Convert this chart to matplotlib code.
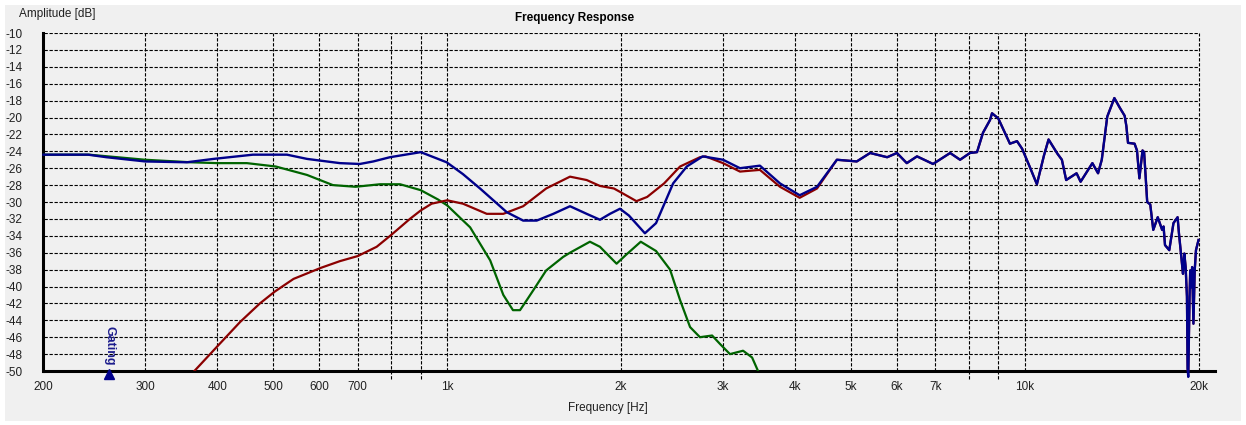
import matplotlib
matplotlib.use("Agg")
import matplotlib.pyplot as plt
from matplotlib.patches import Rectangle
from matplotlib.ticker import NullLocator

plt.rcParams["font.family"] = ["Liberation Sans", "DejaVu Sans"]

# full system response (dB)
full_freq = [200, 239, 257, 300, 354, 394, 461, 528, 572, 652, 706, 745, 796,
             900, 998, 1065, 1140, 1268, 1354, 1429, 1527, 1632, 1744, 1839,
             1914, 1992, 2064, 2200, 2300, 2462, 2600, 2770, 3004, 3214, 3480,
             3770, 4078, 4370, 4730, 5120,
             5400, 5780, 6010, 6250, 6510, 6940, 7430, 7730, 8040, 8270, 8470,
             8710, 8780, 9000, 9430, 9700, 9900, 10200, 10500, 10800, 11000,
             11400, 11600, 11800, 12300, 12500, 13100, 13400, 13600, 13900,
             14300, 14600, 14900, 15000, 15100, 15500, 15650, 15800, 16000,
             16100, 16200, 16300, 16500, 16700, 17000, 17300, 17400, 17500,
             17800, 18100, 18400, 18500, 18700, 18800, 18900, 19000, 19100,
             19150, 19200, 19300, 19350, 19400, 19500, 19600, 19700, 19800,
             20000]
full_db = [-24.4, -24.4, -24.7, -25.2, -25.3, -24.9, -24.4, -24.4, -24.9, -25.4,
           -25.5, -25.2, -24.7, -24.1, -25.3, -26.7, -28.4, -31.2, -32.2, -32.2,
           -31.4, -30.5, -31.4, -32.1, -31.4, -30.8, -31.6, -33.7, -32.5, -27.8,
           -25.8, -24.6, -25.0, -26.0, -25.7, -27.8, -29.2, -28.2, -25.0, -25.2,
           -24.2, -24.7, -24.2, -25.4, -24.6,
           -25.5, -24.2, -25.0, -24.2, -24.1, -21.8, -20.3, -19.5, -20.1, -23.1,
           -22.8, -23.7, -25.8, -27.9, -24.5, -22.6, -24.3, -25.0, -27.4, -26.6,
           -27.6, -25.4, -26.6, -25.0, -19.9, -17.7, -18.8, -19.8, -21.0, -23.0,
           -23.1, -23.9, -27.2, -23.9, -24.1, -27.0, -30.0, -30.3, -33.3, -31.8,
           -33.3, -32.9, -35.1, -35.7, -32.5, -31.8, -33.7, -36.9, -38.5, -36.1,
           -37.7, -41.2, -49.7, -50.7, -41.2, -38.1, -40.1, -37.7, -44.4, -38.1,
           -35.7, -34.5]

# tweeter branch, same as the full response above ~4.5 kHz
tw_freq = [365, 401, 438, 474, 503, 542, 604, 652, 700, 755, 800, 862, 900,
           940, 1000, 1065, 1171, 1251, 1354, 1484, 1632, 1744, 1839, 1944,
           1992, 2127, 2220, 2375, 2531, 2740, 2800, 3004, 3214, 3480, 3770,
           4078, 4370]
tw_db = [-50.0, -47.0, -44.2, -42.0, -40.6, -39.1, -37.8, -37.0, -36.4, -35.3,
         -33.9, -32.0, -31.0, -30.2, -29.8, -30.2, -31.4, -31.4, -30.5, -28.4,
         -27.0, -27.4, -28.1, -28.4, -28.8, -29.9, -29.4, -27.8, -25.8, -24.7,
         -24.6, -25.4, -26.4, -26.2, -28.2, -29.5, -28.4]
hf_start = full_freq.index(4730)
tw_freq = tw_freq + full_freq[hf_start:]
tw_db = tw_db + full_db[hf_start:]

# woofer branch
wf_freq = [200, 240, 300, 360, 400, 450, 505, 572, 634, 694, 765, 829, 900,
           964, 1000, 1096, 1187, 1251, 1300, 1337, 1374, 1408, 1484, 1588,
           1632, 1767, 1839, 1965, 2037, 2164, 2300, 2432, 2531, 2634, 2740,
           2876, 2968, 3088, 3254, 3373, 3454]
wf_db = [-24.4, -24.4, -25.0, -25.3, -25.4, -25.4, -25.8, -26.8, -28.0, -28.2,
         -27.9, -27.9, -28.6, -29.7, -30.4, -33.0, -36.9, -41.0, -42.8, -42.8,
         -41.6, -40.5, -38.1, -36.5, -36.0, -34.7, -35.3, -37.3, -36.3, -34.7,
         -35.8, -38.0, -41.6, -44.8, -46.0, -45.8, -46.8, -48.0, -47.6, -48.4,
         -50.0]

gating_freq = 260

grid_freqs = [300, 400, 500, 600, 700, 800, 900, 1000, 2000, 3000, 4000, 5000,
              6000, 7000, 8000, 9000, 10000, 20000]
label_freqs = [200, 300, 400, 500, 600, 700, 1000, 2000, 3000, 4000, 5000,
               6000, 7000, 10000, 20000]
label_text = ["200", "300", "400", "500", "600", "700", "1k", "2k", "3k", "4k",
              "5k", "6k", "7k", "10k", "20k"]
db_ticks = list(range(-50, -9, 2))

W, H = 1246, 425
bg = "#f0f0f0"
dash = (0, (3, 1.5))

fig = plt.figure(figsize=(W / 100, H / 100), dpi=100, facecolor="white")
fig.patches.append(Rectangle((5 / W, 4 / H), 1236 / W, 416 / H,
                             transform=fig.transFigure, facecolor=bg,
                             edgecolor="none", zorder=-5))

ax = fig.add_axes([43.5 / W, (H - 371) / H, (1215 - 43.5) / W, (371 - 33) / H])
ax.patch.set_visible(False)
ax.set_xscale("log")
ax.set_xlim(200, 21360)
ax.set_ylim(-50, -10)

for s in ("top", "right"):
    ax.spines[s].set_visible(False)
for s in ("left", "bottom"):
    ax.spines[s].set_linewidth(2.2)
    ax.spines[s].set_color("black")

# dashed grid, stopping at 20 kHz
for y in db_ticks[1:]:
    ax.hlines(y, 200, 20000, colors="black", linestyles=dash, lw=0.8, zorder=1)
for f in grid_freqs:
    low = -50 if f in label_freqs else -50.9
    ax.vlines(f, low, -10, colors="black", linestyles=dash, lw=0.8, zorder=1,
              clip_on=False)

ax.set_xticks(label_freqs, label_text)
ax.xaxis.set_minor_locator(NullLocator())
ax.set_yticks(db_ticks, [str(v) for v in db_ticks])
ax.tick_params(axis="both", length=0, labelsize=8.5, colors="#202020")
ax.tick_params(axis="x", pad=7)
ax.tick_params(axis="y", pad=15)

ax.plot(wf_freq, wf_db, color="#006400", lw=1.6, zorder=3)
ax.plot(tw_freq, tw_db, color="#8b0000", lw=1.6, zorder=4)
ax.plot(full_freq, full_db, color="#00008b", lw=1.7, zorder=5, clip_on=False)

# gating marker
ax.plot([gating_freq], [-50.4], marker="^", ms=6.5, color="#00008b",
        clip_on=False, zorder=6)
ax.text(gating_freq, -49.3, "Gating", rotation=-90, ha="center", va="bottom",
        fontsize=9, fontweight="bold", color="#1c1c8c")

fig.text(575 / W, 1 - 18 / H, "Frequency Response", ha="center", va="center",
         fontsize=8.5, fontweight="bold")
fig.text(19 / W, 1 - 14 / H, "Amplitude [dB]", ha="left", va="center",
         fontsize=8.5, color="#202020")
fig.text(608 / W, 1 - 408 / H, "Frequency [Hz]", ha="center", va="center",
         fontsize=8.5, color="#202020")

fig.savefig("out.png", dpi=100, facecolor="white")
